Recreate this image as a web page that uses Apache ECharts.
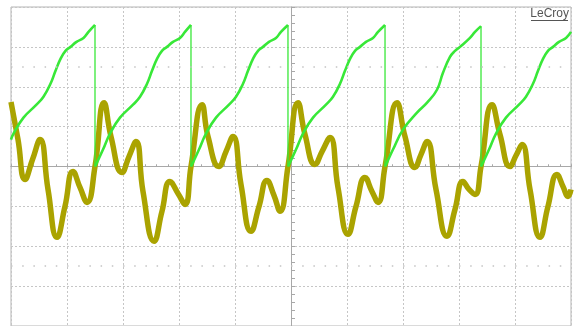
<!DOCTYPE html>
<html>
<head>
<meta charset="utf-8">
<script src="https://cdn.jsdelivr.net/npm/echarts@6/dist/echarts.min.js"></script>
<style>
  html, body { margin: 0; padding: 0; background: #fff; }
  #scope { width: 575px; height: 326px; }
</style>
</head>
<body>
<div id="scope"></div>
<script>
// time in divisions (10 across), volts in divisions (8 tall, 0 in the middle)
const greenX = [
  0, 0.045, 0.223, 0.455, 0.58, 0.705, 0.795, 0.884, 0.973, 1.063, 1.17, 1.295, 1.384, 1.5, 1.5,
  1.5, 1.536, 1.643, 1.768, 1.946, 2.179, 2.304, 2.429, 2.518, 2.607, 2.696, 2.786, 2.893, 3.018, 3.107, 3.214, 3.214,
  3.214, 3.25, 3.357, 3.482, 3.661, 3.893, 4.018, 4.143, 4.232, 4.321, 4.411, 4.5, 4.607, 4.732, 4.821, 4.946, 4.946,
  4.946, 4.982, 5.089, 5.214, 5.393, 5.625, 5.75, 5.875, 5.964, 6.054, 6.143, 6.232, 6.339, 6.464, 6.554, 6.679, 6.679,
  6.679, 6.714, 6.821, 7.0, 7.25, 7.43, 7.607, 7.714, 7.839, 7.929, 8.018, 8.196, 8.286, 8.393, 8.393,
  8.393, 8.429, 8.536, 8.661, 8.839, 9.071, 9.196, 9.321, 9.411, 9.5, 9.589, 9.679, 9.786, 9.911, 10
];
const greenY = [
  0.675, 0.825, 1.225, 1.55, 1.75, 2.075, 2.4, 2.7, 2.9, 3.0, 3.125, 3.225, 3.375, 3.55, null,
  0, 0.1, 0.425, 0.825, 1.225, 1.55, 1.75, 2.075, 2.4, 2.7, 2.9, 3.0, 3.125, 3.225, 3.375, 3.55, null,
  0, 0.1, 0.425, 0.825, 1.225, 1.55, 1.75, 2.075, 2.4, 2.7, 2.9, 3.0, 3.125, 3.225, 3.375, 3.55, null,
  0, 0.1, 0.425, 0.825, 1.225, 1.55, 1.75, 2.075, 2.4, 2.7, 2.9, 3.0, 3.125, 3.225, 3.375, 3.55, null,
  0, 0.1, 0.425, 0.925, 1.35, 1.6, 1.925, 2.35, 2.75, 2.9, 3.0, 3.225, 3.375, 3.52, null,
  0, 0.1, 0.425, 0.825, 1.225, 1.55, 1.75, 2.075, 2.4, 2.7, 2.9, 3.0, 3.125, 3.225, 3.375
];
// the fast fall-back edges of the ramp
const dropX = [1.5, 3.214, 4.946, 6.679, 8.393];
const dropTop = [3.55, 3.55, 3.55, 3.55, 3.52];

const yellowX = [
  0, 0.125, 0.25, 0.384, 0.518, 0.661, 0.821, 0.964, 1.107, 1.232, 1.357, 1.5,
  1.661, 1.786, 1.982, 2.107, 2.232, 2.357, 2.554, 2.696, 2.839, 2.982, 3.107, 3.214,
  3.411, 3.518, 3.714, 3.839, 3.964, 4.107, 4.286, 4.429, 4.571, 4.696, 4.804, 4.946,
  5.125, 5.25, 5.429, 5.554, 5.696, 5.839, 6.018, 6.161, 6.321, 6.446, 6.554, 6.679,
  6.893, 7.036, 7.214, 7.321, 7.429, 7.589, 7.786, 7.929, 8.071, 8.179, 8.286, 8.393,
  8.589, 8.732, 8.911, 9.018, 9.125, 9.268, 9.446, 9.589, 9.75, 9.857, 9.946, 10
];
const yellowY = [
  1.62, 0.675, -0.325, 0.175, 0.675, -0.575, -1.775, -1.0, -0.125, -0.525, -0.9, 0,
  1.6, 0.75, -0.15, 0.25, 0.625, -0.625, -1.875, -1.125, -0.375, -0.675, -0.95, 0,
  1.55, 0.75, 0, 0.375, 0.75, -0.45, -1.625, -1.0, -0.35, -0.725, -1.125, 0,
  1.6, 0.8, 0.05, 0.375, 0.725, -0.525, -1.7, -1.0, -0.275, -0.625, -0.9, 0,
  1.6, 0.75, -0.025, 0.3, 0.625, -0.575, -1.75, -1.075, -0.375, -0.575, -0.7, 0,
  1.55, 0.8, 0, 0.275, 0.55, -0.575, -1.775, -1.0, -0.2, -0.5, -0.75, -0.575
];

const GREEN = '#38e838'
const YELLOW = '#aaa300'
const GRID = '#c6c6c6'

const chart = echarts.init(document.getElementById('scope'))

const dropData = []
dropX.forEach((x, i) => {
  dropData.push([x, dropTop[i]], [x, 0], [x, null])
})

const option = {
  animation: false,
  backgroundColor: '#fff',
  grid: {
    left: 11, top: 7, width: 560, height: 320,
    show: true, borderColor: '#b4b4b4', borderWidth: 1
  },
  xAxis: [
    {
      type: 'value', min: 0, max: 10, interval: 1,
      axisLine: { onZero: true, lineStyle: { color: '#a8a8a8', width: 1 } },
      axisTick: { show: true, inside: true, length: 2, lineStyle: { color: '#a8a8a8' } },
      minorTick: { show: true, splitNumber: 5, length: 2, lineStyle: { color: '#a8a8a8' } },
      axisLabel: { show: false },
      splitLine: { show: true, lineStyle: { color: GRID, type: [2, 2] } }
    },
    {
      type: 'value', min: 0, max: 10, interval: 1,
      axisLine: { onZero: true, lineStyle: { color: '#a8a8a8', width: 1 } },
      axisTick: { show: true, inside: false, length: 2, lineStyle: { color: '#a8a8a8' } },
      minorTick: { show: true, splitNumber: 5, length: 2, lineStyle: { color: '#a8a8a8' } },
      axisLabel: { show: false },
      splitLine: { show: false }
    }
  ],
  yAxis: [
    {
      type: 'value', min: -4, max: 4, interval: 1,
      axisLine: { show: false },
      axisTick: { show: false },
      axisLabel: { show: false },
      splitLine: { show: true, lineStyle: { color: GRID, type: [2, 2] } }
    },
    {
      // centre vertical line with its small ticks
      type: 'value', min: -4, max: 4, interval: 1, position: 'left', offset: -280,
      axisLine: { show: true, lineStyle: { color: '#a8a8a8', width: 1 } },
      axisTick: { show: true, inside: true, length: 4, lineStyle: { color: '#a8a8a8' } },
      minorTick: { show: true, splitNumber: 5, length: 4, lineStyle: { color: '#a8a8a8' } },
      axisLabel: { show: false },
      splitLine: { show: false }
    }
  ],
  graphic: [
    {
      type: 'text', right: 6, top: 8,
      style: { text: 'LeCroy', font: '12px "Liberation Sans", Arial, sans-serif', fill: '#555' }
    },
    {
      type: 'line', shape: { x1: 531, y1: 20.5, x2: 568, y2: 20.5 },
      style: { stroke: '#555', lineWidth: 1 }
    }
  ],
  series: [
    {
      name: 'rows',
      type: 'line',
      data: [],
      markLine: {
        silent: true,
        symbol: 'none',
        label: { show: false },
        lineStyle: { color: '#c4c4c4', type: [1.5, 9.7], width: 1.5 },
        data: [{ yAxis: 2.5 }, { yAxis: -2.5 }]
      }
    },
    {
      name: 'C2',
      type: 'line',
      data: yellowX.map((x, i) => [x, yellowY[i]]),
      smooth: 0.5,
      showSymbol: false,
      lineStyle: { color: YELLOW, width: 5.5 },
      z: 3
    },
    {
      name: 'C1',
      type: 'line',
      data: greenX.map((x, i) => [x, greenY[i]]),
      smooth: 0.45,
      connectNulls: false,
      showSymbol: false,
      lineStyle: { color: GREEN, width: 2.6 },
      z: 4
    },
    {
      name: 'C1 edge',
      type: 'line',
      data: dropData,
      connectNulls: false,
      showSymbol: false,
      lineStyle: { color: GREEN, width: 1.3 },
      z: 4
    }
  ]
}

chart.setOption(option)
</script>
</body>
</html>
